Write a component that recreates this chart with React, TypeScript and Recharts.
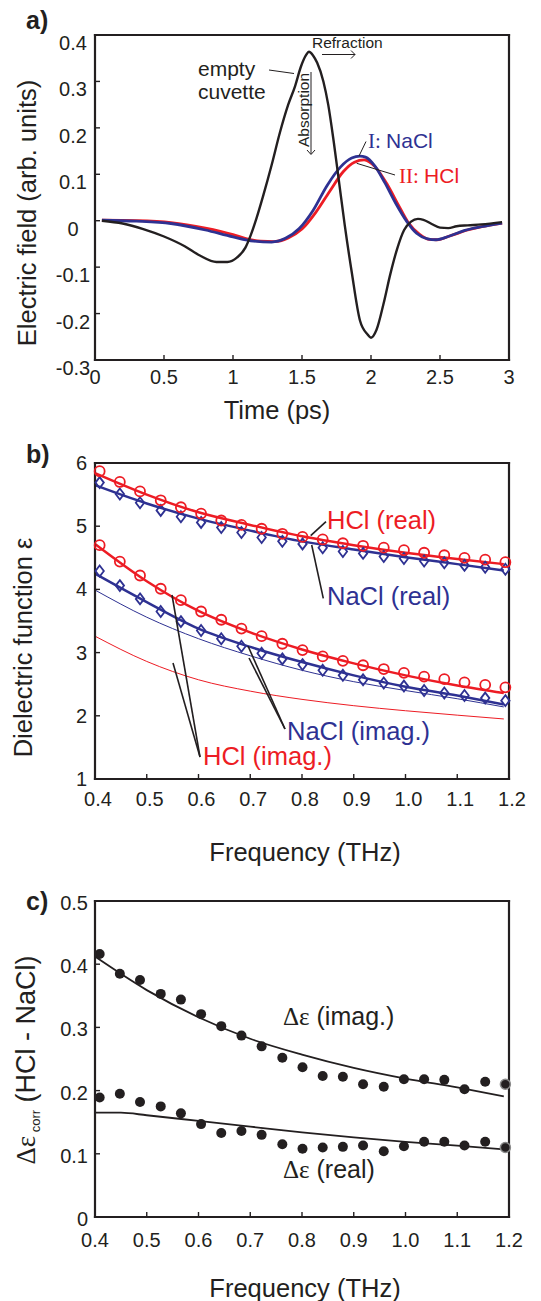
import React from 'react';
import { LineChart, Line, XAxis, YAxis } from 'recharts';

const FONT = '"Liberation Sans", Arial, Helvetica, sans-serif';
const SERIF = '"Liberation Serif", "Times New Roman", serif';
const INK = '#231f20';
const BLUE = '#2e3192';
const RED = '#ed1c24';

// ---- a) time-domain pulses ----
const emptyT = [0.05, 0.2, 0.35, 0.5, 0.65, 0.76, 0.88, 0.96, 1.03, 1.09, 1.13, 1.17, 1.22, 1.28, 1.34, 1.4, 1.45, 1.49, 1.53, 1.55, 1.58, 1.61, 1.655, 1.69, 1.73, 1.77, 1.81, 1.86, 1.92, 1.975, 2.0, 2.04, 2.09, 2.14, 2.19, 2.24, 2.29, 2.34, 2.38, 2.44, 2.5, 2.56, 2.62, 2.7, 2.8, 2.95];
const emptyE = [0, -0.006, -0.018, -0.034, -0.055, -0.075, -0.089, -0.089, -0.079, -0.058, -0.03, 0.005, 0.055, 0.12, 0.19, 0.25, 0.29, 0.33, 0.357, 0.364, 0.356, 0.34, 0.3, 0.25, 0.17, 0.08, -0.01, -0.11, -0.215, -0.245, -0.252, -0.235, -0.18, -0.115, -0.06, -0.02, -0.002, 0.004, 0.002, -0.007, -0.015, -0.016, -0.012, -0.01, -0.008, -0.003];
const naclT = [0.05, 0.3, 0.55, 0.8, 1.0, 1.15, 1.28, 1.38, 1.48, 1.58, 1.68, 1.78, 1.86, 1.92, 1.96, 2.03, 2.1, 2.18, 2.26, 2.33, 2.41, 2.47, 2.56, 2.68, 2.8, 2.95];
const naclE = [0.001, -0.001, -0.006, -0.02, -0.035, -0.044, -0.046, -0.038, -0.017, 0.022, 0.075, 0.116, 0.135, 0.139, 0.137, 0.117, 0.082, 0.037, -0.002, -0.027, -0.039, -0.041, -0.034, -0.021, -0.013, -0.005];
const hclT = [0.05, 0.3, 0.55, 0.8, 1.0, 1.1, 1.2, 1.3, 1.4, 1.5, 1.6, 1.7, 1.8, 1.88, 1.95, 2.03, 2.12, 2.2, 2.27, 2.35, 2.42, 2.48, 2.57, 2.7, 2.95];
const hclE = [0.001, 0, -0.004, -0.016, -0.03, -0.039, -0.044, -0.045, -0.037, -0.018, 0.018, 0.063, 0.106, 0.126, 0.131, 0.116, 0.077, 0.033, -0.004, -0.029, -0.04, -0.041, -0.033, -0.02, -0.005];
const timeTicks = [0, 0.5, 1, 1.5, 2, 2.5, 3];
const fieldTicks = [-0.3, -0.2, -0.1, 0, 0.1, 0.2, 0.3, 0.4];

// ---- b) dielectric function ----
const freqs = [0.409, 0.448, 0.487, 0.527, 0.566, 0.605, 0.644, 0.683, 0.722, 0.762, 0.801, 0.84, 0.879, 0.918, 0.958, 0.997, 1.036, 1.075, 1.114, 1.154, 1.193];
const hclReal = [5.87, 5.7, 5.55, 5.41, 5.3, 5.2, 5.09, 5.02, 4.96, 4.88, 4.83, 4.79, 4.73, 4.69, 4.66, 4.62, 4.58, 4.54, 4.5, 4.47, 4.43];
const naclReal = [5.69, 5.51, 5.37, 5.25, 5.15, 5.06, 4.98, 4.9, 4.82, 4.76, 4.72, 4.66, 4.6, 4.57, 4.52, 4.49, 4.45, 4.42, 4.38, 4.35, 4.32];
const hclImag = [4.7, 4.44, 4.22, 4.01, 3.83, 3.65, 3.52, 3.38, 3.26, 3.14, 3.04, 2.94, 2.87, 2.8, 2.74, 2.68, 2.62, 2.58, 2.53, 2.49, 2.45];
const naclImag = [4.29, 4.06, 3.85, 3.65, 3.49, 3.35, 3.22, 3.1, 2.99, 2.9, 2.81, 2.72, 2.64, 2.57, 2.52, 2.47, 2.4, 2.36, 2.32, 2.28, 2.24];
const fitFreqs = [0.4, 0.5, 0.6, 0.7, 0.8, 0.9, 1.0, 1.1, 1.19];
const hclRealFit = [5.84, 5.5, 5.22, 5.02, 4.84, 4.7, 4.58, 4.48, 4.4];
const naclRealFit = [5.65, 5.36, 5.12, 4.93, 4.76, 4.63, 4.51, 4.4, 4.3];
const hclImagFit = [4.72, 4.13, 3.66, 3.32, 3.05, 2.83, 2.64, 2.48, 2.36];
const naclImagFit = [4.25, 3.8, 3.38, 3.09, 2.85, 2.64, 2.46, 2.32, 2.18];
const naclImagThin = [3.99, 3.56, 3.22, 2.95, 2.72, 2.54, 2.4, 2.27, 2.14];
const hclImagThin = [3.26, 2.86, 2.57, 2.39, 2.26, 2.16, 2.08, 2.01, 1.95];
const freqTicks = [0.4, 0.5, 0.6, 0.7, 0.8, 0.9, 1.0, 1.1, 1.2];
const epsTicks = [1, 2, 3, 4, 5, 6];

// ---- c) difference HCl - NaCl ----
const dImag = [0.416, 0.385, 0.375, 0.353, 0.344, 0.321, 0.302, 0.287, 0.27, 0.252, 0.237, 0.223, 0.222, 0.21, 0.206, 0.218, 0.218, 0.217, 0.202, 0.214, 0.21];
const dReal = [0.189, 0.195, 0.182, 0.175, 0.164, 0.147, 0.133, 0.136, 0.13, 0.115, 0.108, 0.11, 0.111, 0.113, 0.104, 0.112, 0.119, 0.119, 0.113, 0.119, 0.11];
const dImagFitF = [0.4, 0.5, 0.6, 0.7, 0.8, 0.9, 1.0, 1.1, 1.19];
const dImagFit = [0.412, 0.359, 0.316, 0.282, 0.257, 0.236, 0.219, 0.205, 0.191];
const dRealFitF = [0.4, 0.45, 0.5, 0.6, 0.7, 0.8, 0.9, 1.0, 1.1, 1.19];
const dRealFit = [0.165, 0.165, 0.161, 0.152, 0.143, 0.134, 0.126, 0.119, 0.113, 0.107];
const deltaTicks = [0, 0.1, 0.2, 0.3, 0.4, 0.5];

const pts = (xs: number[], ys: number[]) => xs.map((x, i) => ({ x, y: ys[i] }));

const axisLine = { stroke: INK, strokeWidth: 2.2, strokeLinecap: 'square' as const };
const tickLine = { stroke: INK, strokeWidth: 1.4 };

// box with inward ticks on all four sides, labels only bottom/left
// (axes need a non-zero size or recharts skips drawing them)
function frame(xd: number[], xt: number[], yd: number[], yt: number[], xTick: any, yTick: any) {
    const common = { tickSize: -5, tickMargin: 5, axisLine, tickLine, interval: 0 as const, type: 'number' as const };
    return [
        <XAxis key="xb" xAxisId="b" dataKey="x" domain={xd} ticks={xt} height={1} tick={xTick} {...common} />,
        <XAxis key="xt" xAxisId="t" orientation="top" dataKey="x" domain={xd} ticks={xt} height={1} tick={false} {...common} />,
        <YAxis key="yl" yAxisId="l" dataKey="y" domain={yd} ticks={yt} width={1} tick={yTick} {...common} />,
        <YAxis key="yr" yAxisId="r" orientation="right" dataKey="y" domain={yd} ticks={yt} width={1} tick={false} {...common} />,
    ];
}

const label = (x: number, y: number, s: string, anchor = 'middle') => (
    <text x={x} y={y} textAnchor={anchor} fontSize={20} fontFamily={FONT} fill={INK}>{s}</text>
);

const circleDot = (p: any) => (
    <circle key={p.index} cx={p.cx} cy={p.cy} r={5} fill="none" stroke={RED} strokeWidth={1.8} />
);
const diamondDot = (p: any) => (
    <path key={p.index} d={`M${p.cx},${p.cy - 5.5}L${p.cx + 4.2},${p.cy}L${p.cx},${p.cy + 5.5}L${p.cx - 4.2},${p.cy}Z`} fill="none" stroke={BLUE} strokeWidth={1.8} />
);
const blackDot = (p: any) => (
    <circle key={p.index} cx={p.cx} cy={p.cy} r={5} fill={INK}
        stroke={p.index === freqs.length - 1 ? '#8a8a8a' : 'none'} strokeWidth={1.5} />
);

const ln = { xAxisId: 'b', yAxisId: 'l', dataKey: 'y', type: 'monotone' as const, dot: false, activeDot: false, isAnimationActive: false };
const marks = { xAxisId: 'b', yAxisId: 'l', dataKey: 'y', stroke: 'none', activeDot: false, isAnimationActive: false };

export default function App() {
    return (
        <div style={{ position: 'absolute', left: 0, top: 0, width: 541, height: 1301, background: '#fff' }}>
            <div style={{ position: 'absolute', left: 0, top: 0 }}>
                <LineChart width={541} height={400} margin={{ top: 34, right: 31, bottom: 39, left: 94 }}>
                    {frame([0, 3], timeTicks, [-0.3, 0.4], fieldTicks,
                        (p: any) => label(p.x, p.y + 24, String(p.payload.value)),
                        (p: any) => label(p.x - 22, p.y + 15, String(p.payload.value)))}
                    <Line {...ln} data={pts(hclT, hclE)} stroke={RED} strokeWidth={2.8} />
                    <Line {...ln} data={pts(naclT, naclE)} stroke={BLUE} strokeWidth={2.8} />
                    <Line {...ln} data={pts(emptyT, emptyE)} stroke={INK} strokeWidth={2.4} />
                </LineChart>
            </div>
            <div style={{ position: 'absolute', left: 0, top: 430 }}>
                <LineChart width={541} height={400} margin={{ top: 32, right: 31, bottom: 50, left: 94 }}>
                    {frame([0.4, 1.2], freqTicks, [1, 6], epsTicks,
                        (p: any) => label(p.x + 3, p.y + 27, p.payload.value.toFixed(1)),
                        (p: any) => label(p.x - 8, p.y + 7, String(p.payload.value), 'end'))}
                    <Line {...ln} data={pts(fitFreqs, hclImagThin)} stroke={RED} strokeWidth={1} />
                    <Line {...ln} data={pts(fitFreqs, naclImagThin)} stroke={BLUE} strokeWidth={1} />
                    <Line {...ln} data={pts(fitFreqs, naclImagFit)} stroke={BLUE} strokeWidth={2.5} />
                    <Line {...ln} data={pts(fitFreqs, hclImagFit)} stroke={RED} strokeWidth={2.5} />
                    <Line {...ln} data={pts(fitFreqs, naclRealFit)} stroke={BLUE} strokeWidth={2.5} />
                    <Line {...ln} data={pts(fitFreqs, hclRealFit)} stroke={RED} strokeWidth={2.5} />
                    <Line {...marks} data={pts(freqs, naclImag)} dot={diamondDot} />
                    <Line {...marks} data={pts(freqs, naclReal)} dot={diamondDot} />
                    <Line {...marks} data={pts(freqs, hclImag)} dot={circleDot} />
                    <Line {...marks} data={pts(freqs, hclReal)} dot={circleDot} />
                </LineChart>
            </div>
            <div style={{ position: 'absolute', left: 0, top: 860 }}>
                <LineChart width={541} height={400} margin={{ top: 40, right: 31, bottom: 42, left: 94 }}>
                    {frame([0.4, 1.2], freqTicks, [0, 0.5], deltaTicks,
                        (p: any) => label(p.x, p.y + 30, p.payload.value.toFixed(1)),
                        (p: any) => label(p.x - 7, p.y + 9, p.payload.value === 0 ? '0' : p.payload.value.toFixed(1), 'end'))}
                    <Line {...ln} data={pts(dImagFitF, dImagFit)} stroke={INK} strokeWidth={1.8} />
                    <Line {...ln} data={pts(dRealFitF, dRealFit)} stroke={INK} strokeWidth={1.8} />
                    <Line {...marks} data={pts(freqs, dImag)} dot={blackDot} />
                    <Line {...marks} data={pts(freqs, dReal)} dot={blackDot} />
                </LineChart>
            </div>

            <svg width={541} height={1301} style={{ position: 'absolute', left: 0, top: 0, pointerEvents: 'none' }}
                fontFamily={FONT} fill={INK}>
                {/* panel a */}
                <text x={26} y={28.5} fontSize={25} fontWeight="bold">a)</text>
                <text transform="translate(35.5,213) rotate(-90)" textAnchor="middle" fontSize={25.5}>Electric field (arb. units)</text>
                <text x={277} y={419} textAnchor="middle" fontSize={25.5}>Time (ps)</text>
                <text x={198} y={76} fontSize={21}>empty</text>
                <text x={198} y={98.5} fontSize={21}>cuvette</text>
                <line x1={269} y1={70} x2={294} y2={73.5} stroke={INK} strokeWidth={1} />
                <text x={312} y={47.5} fontSize={15.5}>Refraction</text>
                <line x1={322} y1={54.5} x2={355} y2={54.5} stroke={INK} strokeWidth={1} />
                <polyline points="351,50.5 355,54.5 351,58.5" fill="none" stroke={INK} strokeWidth={1} />
                <text transform="translate(308.5,147) rotate(-90)" fontSize={15.5}>Absorption</text>
                <line x1={311} y1={72} x2={311} y2={154} stroke={INK} strokeWidth={1} />
                <polyline points="307,150 311,154.5 315,150" fill="none" stroke={INK} strokeWidth={1} />
                <text x={368} y={148.3} fontSize={21} fill={BLUE}><tspan fontFamily={SERIF}>I: </tspan>NaCl</text>
                <line x1={359} y1={156} x2={366} y2={141.5} stroke={INK} strokeWidth={1} />
                <text x={399} y={183.3} fontSize={21} fill={RED}><tspan fontFamily={SERIF}>II: </tspan>HCl</text>
                <line x1={356.7} y1={163.3} x2={395} y2={175} stroke={INK} strokeWidth={1} />

                {/* panel b */}
                <text x={26} y={463} fontSize={25} fontWeight="bold">b)</text>
                <text transform="translate(32,647.5) rotate(-90)" textAnchor="middle" fontSize={25.5}>Dielectric function ε</text>
                <text x={305} y={861} textAnchor="middle" fontSize={25.5}>Frequency (THz)</text>
                <text x={327} y={529} fontSize={25.5} fill={RED}>HCl (real)</text>
                <line x1={310.7} y1={535.7} x2={326} y2={521.7} stroke={INK} strokeWidth={1.6} />
                <text x={327} y={605} fontSize={25.5} fill={BLUE}>NaCl (real)</text>
                <line x1={311.7} y1={545} x2={323.3} y2={598.3} stroke={INK} strokeWidth={1.6} />
                <text x={287} y={739.5} fontSize={25.5} fill={BLUE}>NaCl (imag.)</text>
                <line x1={248} y1={646} x2={285} y2={729} stroke={INK} strokeWidth={1.6} />
                <line x1={249} y1={658} x2={285} y2={729} stroke={INK} strokeWidth={1.6} />
                <text x={203} y={765} fontSize={25.5} fill={RED}>HCl (imag.)</text>
                <line x1={172} y1={595} x2={200} y2={757} stroke={INK} strokeWidth={1.6} />
                <line x1={173} y1={663} x2={200} y2={757} stroke={INK} strokeWidth={1.6} />

                {/* panel c */}
                <text x={26} y={910} fontSize={25} fontWeight="bold">c)</text>
                <text transform="translate(34.5,1060) rotate(-90)" textAnchor="middle" fontSize={27}>
                    <tspan fontFamily={SERIF}>Δε</tspan><tspan fontSize={13} dy={5}> corr</tspan><tspan dy={-5}> (HCl - NaCl)</tspan>
                </text>
                <text x={305} y={1297} textAnchor="middle" fontSize={25.5}>Frequency (THz)</text>
                <text x={283} y={1025} fontSize={25}><tspan fontFamily={SERIF}>Δε</tspan> (imag.)</text>
                <text x={283} y={1178} fontSize={25}><tspan fontFamily={SERIF}>Δε</tspan> (real)</text>
            </svg>
        </div>
    );
}
